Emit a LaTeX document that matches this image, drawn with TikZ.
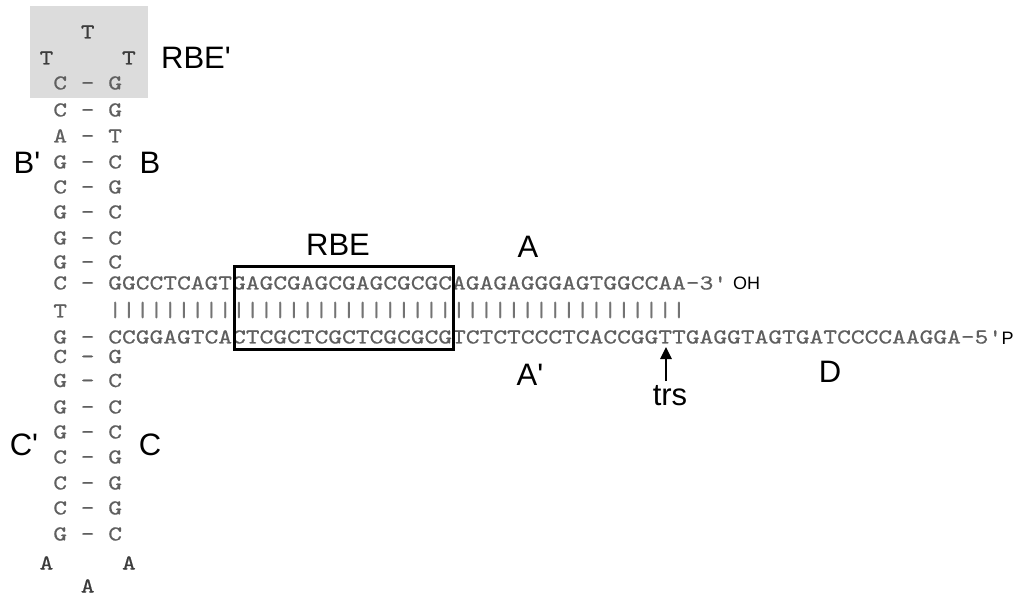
\documentclass[tikz,border=0pt]{standalone}
\usepackage{fontspec}
\usepackage{graphicx}
\usetikzlibrary{arrows.meta}
\newfontfamily\labfont{Liberation Sans}
\newfontfamily\seqfont{lmmono10-regular.otf}[FakeBold=0.5]
\definecolor{seqgray}{RGB}{95,95,95}
\definecolor{loopgray}{RGB}{60,60,60}
\definecolor{bargray}{RGB}{115,115,115}
\definecolor{shadegray}{RGB}{220,220,220}
\newcommand{\seqtxt}[1]{\scalebox{1.2297}[1]{\fontsize{21.3}{21.3}\selectfont\seqfont #1}}
\newcommand{\bartxt}[1]{\scalebox{1.2297}[1]{\fontsize{21.3}{21.3}\selectfont\seqfont #1}}
\begin{document}
\begin{tikzpicture}[x=1pt,y=-1pt,
  seq/.style={anchor=base west,inner sep=0pt,text=seqgray},
  loopl/.style={anchor=base west,inner sep=0pt,text=loopgray},
  bars/.style={anchor=west,inner sep=0pt,text=bargray},
  lab/.style={inner sep=0pt,text=black,font=\labfont\fontsize{31}{31}\selectfont},
  endlab/.style={anchor=west,inner sep=0pt,text=black,font=\labfont\fontsize{18}{18}\selectfont},
  rbebox/.style={draw=black,line width=3pt},
  trsarrow/.style={line width=2.6pt,-{Triangle[width=11pt,length=12pt]}}]
\useasboundingbox[fill=white] (0,0) rectangle (1013,596);
% shaded loop region
\fill[shadegray] (30,6) rectangle (148,98);
% hairpin loop (top)
\node[loopl] (lt1) at (80.625,38.5) {\seqtxt{T}};
\node[loopl] (lt2) at (39.375,64.5) {\seqtxt{T~~~~~T}};
% upper stem
\node[seq] (u1) at (53.125,89.5) {\seqtxt{C - G}};
\node[seq] (u2) at (53.125,116.5) {\seqtxt{C - G}};
\node[seq] (u3) at (53.125,142.5) {\seqtxt{A - T}};
\node[seq] (u4) at (53.125,168.5) {\seqtxt{G - C}};
\node[seq] (u5) at (53.125,193.5) {\seqtxt{C - G}};
\node[seq] (u6) at (53.125,218.5) {\seqtxt{G - C}};
\node[seq] (u7) at (53.125,244.5) {\seqtxt{G - C}};
\node[seq] (u8) at (53.125,268.5) {\seqtxt{G - C}};
% strands
\node[seq] (top) at (53.125,289.5) {\seqtxt{C - GGCCTCAGTGAGCGAGCGAGCGCGCAGAGAGGGAGTGGCCAA-3'}};
\node[seq] (tj) at (53.125,317.5) {\seqtxt{T}};
\node[bars] (pairs) at (108.125,310) {\bartxt{||||||||||||||||||||||||||||||||||||||||||}};
\node[seq] (bot) at (53.125,343.5) {\seqtxt{G - CCGGAGTCACTCGCTCGCTCGCGCGTCTCTCCCTCACCGGTTGAGGTAGTGATCCCCAAGGA-5'}};
% lower stem
\node[seq] (d1) at (53.125,363) {\seqtxt{C - G}};
\node[seq] (d2) at (53.125,387) {\seqtxt{G - C}};
\node[seq] (d3) at (53.125,413.5) {\seqtxt{G - C}};
\node[seq] (d4) at (53.125,438.5) {\seqtxt{G - C}};
\node[seq] (d5) at (53.125,463.5) {\seqtxt{C - G}};
\node[seq] (d6) at (53.125,489.5) {\seqtxt{C - G}};
\node[seq] (d7) at (53.125,514.5) {\seqtxt{C - G}};
\node[seq] (d8) at (53.125,540.5) {\seqtxt{G - C}};
% hairpin loop (bottom)
\node[loopl] (la1) at (39.375,569.5) {\seqtxt{A~~~~~A}};
\node[loopl] (la2) at (80.625,592.5) {\seqtxt{A}};
% RBE box
\draw[rbebox] (234,267) rectangle (453,350);
% end labels
\node[endlab] (oh) at (733,283) {OH};
\node[endlab] (p5) at (1001.5,338) {P};
% region labels
\node[lab] (rbep) at (196,58) {RBE'};
\node[lab] (bp) at (27,163) {B'};
\node[lab] (b) at (150,163) {B};
\node[lab] (cp) at (24,445) {C'};
\node[lab] (c) at (150,445) {C};
\node[lab] (rbe) at (338,245) {RBE};
\node[lab] (a) at (528,247) {A};
\node[lab] (ap) at (530,375) {A'};
\node[lab] (d) at (830,372) {D};
\node[lab,anchor=base] (trs) at (670,405) {trs};
% trs arrow
\coordinate (trsfoot) at (666,381);
\coordinate (trshead) at (666,347);
\draw[trsarrow] (trsfoot) -- (trshead);
\end{tikzpicture}
\end{document}
